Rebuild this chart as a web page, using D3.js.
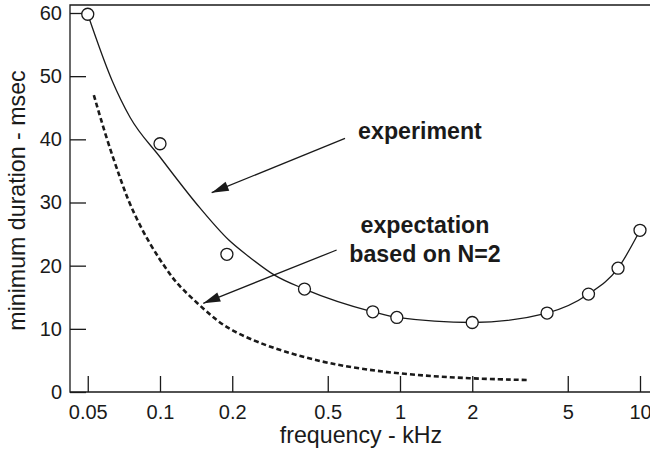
<!DOCTYPE html>
<html>
<head>
<meta charset="utf-8">
<script src="https://cdn.jsdelivr.net/npm/d3@7"></script>
<style>
  html, body { margin: 0; padding: 0; background: #fff; }
  svg { display: block; font-family: "Liberation Sans", Arial, Helvetica, sans-serif; }
</style>
</head>
<body>
<svg id="chart" width="650" height="459"></svg>
<script>
// ---- data ----
const xTicks = [0.05, 0.1, 0.2, 0.5, 1, 2, 5, 10];
const yTicks = [0, 10, 20, 30, 40, 50, 60];

// measured points (open circles)
const pointFreq = [0.05, 0.1, 0.19, 0.4, 0.77, 0.97, 2.0, 4.1, 6.1, 8.1, 10];
const pointDur  = [59.8, 39.3, 21.8, 16.3, 12.7, 11.8, 11.0, 12.5, 15.5, 19.6, 25.6];

// fitted "experiment" curve
const fitFreq = [0.05, 0.063, 0.075, 0.1, 0.147, 0.193, 0.237, 0.3, 0.4, 0.77, 0.97, 2.0, 4.1, 6.1, 8.1, 10];
const fitDur  = [59.8, 49.4, 43.5, 37.2, 29.1, 24.1, 21.3, 18.5, 16.3, 12.7, 11.8, 11.0, 12.5, 15.5, 19.6, 25.6];

// "expectation based on N=2" dashed curve
const expFreq = [0.053, 0.06, 0.068, 0.075, 0.09, 0.11, 0.121, 0.167, 0.196, 0.278, 0.495, 1.0, 2.0, 3.4];
const expDur  = [47.0, 40.0, 34.0, 29.5, 23.5, 18.6, 16.6, 11.7, 9.8, 7.2, 4.4, 2.8, 2.1, 1.9];

// annotations (data coordinates)
const annotations = [
  { lines: ["experiment"], tx: 1.211, ty: [40.05], from: [0.590, 40.16], to: [0.1642, 31.55] },
  { lines: ["expectation", "based on N=2"], tx: 1.271, ty: [25.17, 20.63], from: [0.5446, 22.48], to: [0.1515, 14.04] }
];

// ---- drawing ----
const svg = d3.select("#chart");
const ink = "#1a1a1a";

const x = d3.scaleLog().domain([0.05, 10]).range([87.75, 640]);
const y = d3.scaleLinear().domain([0, 60]).range([392, 13]);

const frameLeft = 70, frameRight = 650, frameTop = 5, frameBottom = 392;

// frame
svg.append("path")
  .attr("d", `M${frameRight},${frameTop}H${frameLeft}V${frameBottom}H${frameRight}`)
  .attr("fill", "none").attr("stroke", ink).attr("stroke-width", 1.3);

// x axis
const xAxis = svg.append("g").attr("transform", `translate(0,${frameBottom})`)
  .call(d3.axisBottom(x).tickValues(xTicks).tickFormat(d => String(d))
    .tickSizeInner(-16).tickSizeOuter(0).tickPadding(12.5));
xAxis.select(".domain").remove();
xAxis.selectAll("line").attr("stroke", ink).attr("stroke-width", 1.3);
xAxis.selectAll("text").attr("font-size", 20).attr("fill", ink)
  .attr("font-family", "Liberation Sans, Arial, sans-serif");

// y axis
const yAxis = svg.append("g").attr("transform", `translate(${frameLeft},0)`)
  .call(d3.axisLeft(y).tickValues(yTicks).tickSizeInner(-16).tickSizeOuter(0).tickPadding(8));
yAxis.select(".domain").remove();
yAxis.selectAll("line").attr("stroke", ink).attr("stroke-width", 1.3);
yAxis.selectAll("text").attr("font-size", 20).attr("fill", ink)
  .attr("font-family", "Liberation Sans, Arial, sans-serif");

// axis titles
svg.append("text")
  .attr("x", (frameLeft + frameRight) / 2 + 1).attr("y", 443)
  .attr("text-anchor", "middle").attr("font-size", 23.2).attr("fill", ink)
  .text("frequency - kHz");
svg.append("text")
  .attr("transform", `translate(25,${(frameTop + frameBottom) / 2 + 2}) rotate(-90)`)
  .attr("text-anchor", "middle").attr("font-size", 23.2).attr("fill", ink)
  .text("minimum duration - msec");

// expectation dashed curve
const expData = expFreq.map((f, i) => [f, expDur[i]]);
svg.append("path")
  .datum(expData)
  .attr("d", d3.line().x(d => x(d[0])).y(d => y(d[1])).curve(d3.curveBasis))
  .attr("fill", "none").attr("stroke", ink).attr("stroke-width", 2.6)
  .attr("stroke-dasharray", "5,3");

// experiment fit curve
const fitData = fitFreq.map((f, i) => [f, fitDur[i]]);
svg.append("path")
  .datum(fitData)
  .attr("d", d3.line().x(d => x(d[0])).y(d => y(d[1])).curve(d3.curveMonotoneX))
  .attr("fill", "none").attr("stroke", ink).attr("stroke-width", 1.3);

// points
const pts = pointFreq.map((f, i) => [f, pointDur[i]]);
svg.append("g").selectAll("circle").data(pts).join("circle")
  .attr("cx", d => x(d[0])).attr("cy", d => y(d[1])).attr("r", 6)
  .attr("fill", "#fff").attr("stroke", ink).attr("stroke-width", 1.3);

// arrowhead marker
svg.append("defs").append("marker")
  .attr("id", "arrow").attr("markerUnits", "userSpaceOnUse")
  .attr("viewBox", "-18 -6 20 12").attr("refX", 0).attr("refY", 0)
  .attr("markerWidth", 20).attr("markerHeight", 12).attr("orient", "auto")
  .append("path").attr("d", "M0,0L-17,-4.8L-17,4.8Z").attr("fill", ink);

// annotations
annotations.forEach(a => {
  svg.append("line")
    .attr("x1", x(a.from[0])).attr("y1", y(a.from[1]))
    .attr("x2", x(a.to[0])).attr("y2", y(a.to[1]))
    .attr("stroke", ink).attr("stroke-width", 1.3)
    .attr("marker-end", "url(#arrow)");
  a.lines.forEach((t, i) => {
    svg.append("text")
      .attr("x", x(a.tx)).attr("y", y(a.ty[i]))
      .attr("text-anchor", "middle").attr("font-size", 23.2)
      .attr("font-weight", "bold").attr("fill", ink)
      .text(t);
  });
});
</script>
</body>
</html>
